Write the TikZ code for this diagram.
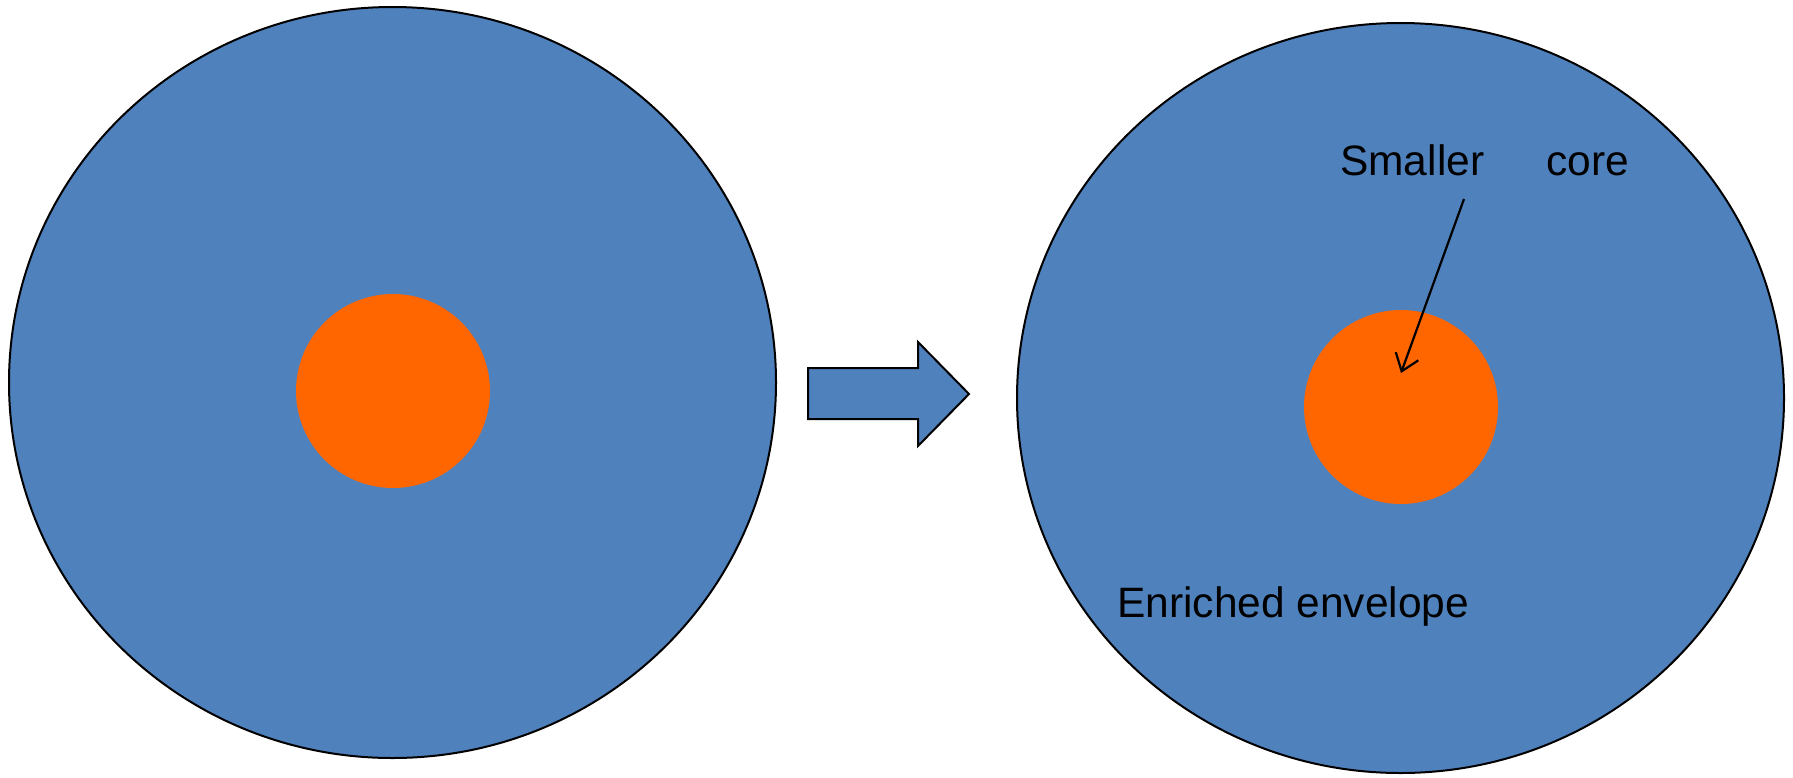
\documentclass[tikz,border=0pt]{standalone}
\usepackage{fontspec}
\setmainfont{Liberation Sans}
\usetikzlibrary{arrows.meta,shapes.geometric}
\definecolor{envblue}{HTML}{4F81BD}
\definecolor{coreorange}{HTML}{FF6600}
\tikzset{
  envelope/.style={ellipse, draw=black, line width=2pt, fill=envblue, inner sep=0pt},
  corecirc/.style={circle, fill=coreorange, draw=none, inner sep=0pt, minimum size=194pt},
  lbl/.style={inner sep=0pt, anchor=base west, font=\fontsize{42.5}{50}\selectfont},
  blockarrow/.style={draw=black, line width=2pt, fill=envblue, line join=miter},
  pointer/.style={draw=black, line width=2.2pt, -{Straight Barb[length=16pt,width=24pt,line width=2.2pt]}}
}
\begin{document}
\begin{tikzpicture}[x=1pt,y=-1pt]
\useasboundingbox (0,0) rectangle (1793,777);
% left star
\node[envelope, minimum width=767pt, minimum height=751pt] (envL) at (392.5,382.5) {};
\node[corecirc] (coreL) at (393,391) {};
% block arrow
\draw[blockarrow] (808,368) -- (918,368) -- (918,342) -- (969,394) -- (918,446) -- (918,419) -- (808,419) -- cycle;
% right star
\node[envelope, minimum width=767pt, minimum height=750pt] (envR) at (1400.5,398) {};
\node[corecirc] (coreR) at (1401,407) {};
\node[lbl] (smaller) at (1340,175) {Smaller\hspace{62pt}core};
\node[lbl] (enriched) at (1117,617) {Enriched envelope};
\coordinate (pstart) at (1464,199);
\coordinate (ptip) at (1401,373);
\draw[pointer] (pstart) -- (ptip);
\end{tikzpicture}
\end{document}
